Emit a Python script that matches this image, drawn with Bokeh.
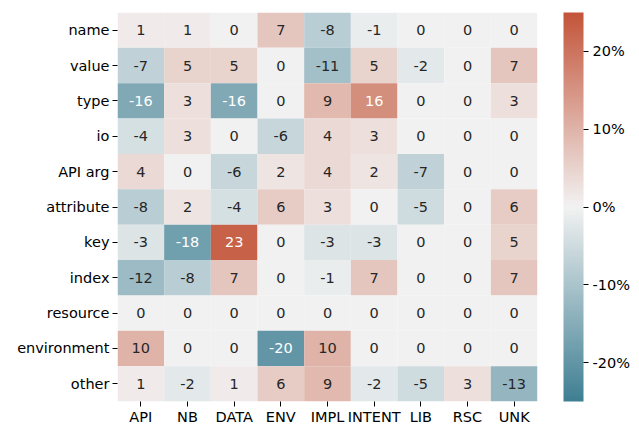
from bokeh.plotting import figure
from bokeh.models import (ColumnDataSource, LinearColorMapper, ColorBar, FixedTicker,
                          PrintfTickFormatter, FactorRange)
from bokeh.core.properties import value
from bokeh.embed import file_html
from bokeh.resources import INLINE

rows = ["name", "value", "type", "io", "API arg", "attribute", "key", "index",
        "resource", "environment", "other"]
cols = ["API", "NB", "DATA", "ENV", "IMPL", "INTENT", "LIB", "RSC", "UNK"]
vals = [
    [1, 1, 0, 7, -8, -1, 0, 0, 0],
    [-7, 5, 5, 0, -11, 5, -2, 0, 7],
    [-16, 3, -16, 0, 9, 16, 0, 0, 3],
    [-4, 3, 0, -6, 4, 3, 0, 0, 0],
    [4, 0, -6, 2, 4, 2, -7, 0, 0],
    [-8, 2, -4, 6, 3, 0, -5, 0, 6],
    [-3, -18, 23, 0, -3, -3, 0, 0, 5],
    [-12, -8, 7, 0, -1, 7, 0, 0, 7],
    [0, 0, 0, 0, 0, 0, 0, 0, 0],
    [10, 0, 0, -20, 10, 0, 0, 0, 0],
    [1, -2, 1, 6, 9, -2, -5, 3, -13],
]
cbar_ticks = [-20, -10, 0, 10, 20]
vmin, vmax = -25, 25

# diverging palette (blue -> light gray -> red), linear RGB blend
lo = (63, 127, 147)
mid = (242, 242, 242)
hi = (195, 85, 58)
N = 256
palette = []
rgb_list = []
for i in range(N):
    t = i / (N - 1)
    if t < 0.5:
        f = t / 0.5
        c = tuple(lo[k] + (mid[k] - lo[k]) * f for k in range(3))
    else:
        f = (t - 0.5) / 0.5
        c = tuple(mid[k] + (hi[k] - mid[k]) * f for k in range(3))
    rgb_list.append(c)
    palette.append("#%02x%02x%02x" % tuple(int(round(v)) for v in c))


def lum(c):
    out = []
    for v in c:
        v = v / 255
        out.append(v / 12.92 if v <= 0.03928 else ((v + 0.055) / 1.055) ** 2.4)
    return 0.2126 * out[0] + 0.7152 * out[1] + 0.0722 * out[2]


xs, ys, vs, labels, tcol = [], [], [], [], []
for r, row in zip(rows, vals):
    for c, v in zip(cols, row):
        xs.append(c)
        ys.append(r)
        vs.append(v)
        labels.append(str(v))
        idx = int(round((v - vmin) / (vmax - vmin) * (N - 1)))
        idx = max(0, min(N - 1, idx))
        tcol.append("#262626" if lum(rgb_list[idx]) > 0.408 else "#ffffff")

src = ColumnDataSource(dict(x=xs, y=ys, v=vs, label=labels, tc=tcol))
mapper = LinearColorMapper(palette=palette, low=vmin, high=vmax)

p = figure(width=639, height=427, output_backend="svg", toolbar_location=None,
           x_range=FactorRange(*cols), y_range=FactorRange(*rows[::-1]),
           min_border_left=117, min_border_right=102, min_border_top=12,
           min_border_bottom=26)
p.rect(x="x", y="y", width=1, height=1, source=src,
       fill_color={"field": "v", "transform": mapper}, line_color=None)
p.text(x="x", y="y", text="label", source=src, text_color="tc",
       text_align="center", text_baseline="middle",
       text_font=value("DejaVu Sans"), text_font_size="14.5px")

p.outline_line_color = None
p.grid.grid_line_color = None
for ax in (p.xaxis, p.yaxis):
    ax.axis_line_color = None
    ax.major_tick_line_color = "#000000"
    ax.major_tick_in = 0
    ax.major_tick_out = 5
    ax.minor_tick_line_color = None
    ax.major_label_standoff = 3
    ax.major_label_text_font = "DejaVu Sans"
    ax.major_label_text_font_size = "14.5px"
    ax.major_label_text_color = "#000000"
p.xaxis.major_label_standoff = 2
p.x_range.range_padding = 0
p.y_range.range_padding = 0

cb = ColorBar(color_mapper=mapper, width=20, padding=0, margin=0,
              location=(26, 0),
              ticker=FixedTicker(ticks=cbar_ticks),
              formatter=PrintfTickFormatter(format="%d%%"),
              major_tick_in=0, major_tick_out=5, major_tick_line_color="#000000",
              minor_tick_line_color=None, bar_line_color=None,
              major_label_text_font="DejaVu Sans", major_label_text_font_size="14.5px",
              major_label_text_color="#000000", label_standoff=4,
              background_fill_color=None, border_line_color=None)
p.add_layout(cb, "right")

open("out.html", "w").write(file_html(p, INLINE))
